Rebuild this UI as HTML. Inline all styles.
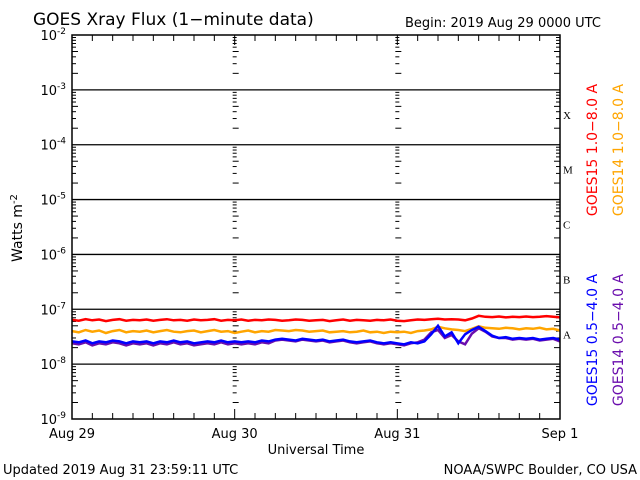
<!DOCTYPE html>
<html><head><meta charset="utf-8"><style>
body{margin:0;background:#fff;}
svg{display:block;font-family:"DejaVu Sans","Liberation Sans",sans-serif;}
</style></head><body>
<svg id="c" width="640" height="480" viewBox="0 0 640 480">
<text x="33" y="25" font-size="17">GOES Xray Flux (1−minute data)</text>
<text x="405" y="27" font-size="13">Begin:  2019 Aug 29 0000 UTC</text>
<text x="22" y="228" font-size="14" transform="rotate(-90 22 228)" text-anchor="middle">Watts m<tspan dy="-5" font-size="10">-2</tspan></text>
<text x="316" y="454" font-size="13" text-anchor="middle">Universal Time</text>
<text x="3" y="474" font-size="13">Updated 2019 Aug 31 23:59:11 UTC</text>
<text x="637" y="474" font-size="13" text-anchor="end">NOAA/SWPC Boulder, CO USA</text>
<g id="axes"></g><g id="series"></g>
<rect x="72" y="35" width="488" height="384" fill="none" stroke="#000" stroke-width="1.5"/>
<text x="597" y="150" font-size="14" fill="#ff0000" transform="rotate(-90 597 150)" text-anchor="middle">GOES15 1.0−8.0 A</text>
<text x="623" y="150" font-size="14" fill="#ffa500" transform="rotate(-90 623 150)" text-anchor="middle">GOES14 1.0−8.0 A</text>
<text x="597" y="340" font-size="14" fill="#0000ff" transform="rotate(-90 597 340)" text-anchor="middle">GOES15 0.5−4.0 A</text>
<text x="623" y="340" font-size="14" fill="#6a0dad" transform="rotate(-90 623 340)" text-anchor="middle">GOES14 0.5−4.0 A</text>
</svg>
<script>
const dayLabels=["Aug 29","Aug 30","Aug 31","Sep 1"];
const decadeExps=[-2,-3,-4,-5,-6,-7,-8,-9];
const flareClasses=["X","M","C","B","A"];
// hourly flux, units of 1e-8 W/m^2 (73 points, hour 0..72)
const g15Long=[6.4,6.2,6.6,6.3,6.5,6.1,6.4,6.6,6.2,6.4,6.3,6.5,6.2,6.4,6.6,6.3,6.4,6.2,6.5,6.3,6.4,6.6,6.2,6.4,6.3,6.5,6.2,6.4,6.3,6.5,6.4,6.2,6.3,6.5,6.4,6.2,6.3,6.4,6.1,6.3,6.5,6.2,6.4,6.3,6.2,6.4,6.3,6.5,6.2,6.1,6.3,6.5,6.4,6.6,6.7,6.5,6.6,6.5,6.3,6.8,7.6,7.3,7.2,7.4,7.1,7.3,7.2,7.4,7.2,7.3,7.5,7.3,7.1];
const g14Long=[4.0,3.8,4.2,3.9,4.1,3.7,4.0,4.2,3.8,4.0,3.9,4.1,3.8,4.0,4.2,3.9,3.8,4.0,4.1,3.8,4.0,4.2,3.9,4.0,3.7,3.9,4.1,3.8,4.0,3.9,4.2,4.1,4.0,4.2,4.1,3.9,4.0,4.1,3.8,3.9,4.0,3.8,3.9,4.1,3.8,3.9,3.7,3.9,3.8,3.9,3.7,4.0,4.1,4.3,4.8,4.5,4.3,4.2,4.0,4.4,4.9,4.6,4.5,4.4,4.6,4.5,4.3,4.5,4.4,4.6,4.3,4.4,4.1];
const g15Short=[2.6,2.5,2.7,2.4,2.6,2.5,2.7,2.6,2.4,2.6,2.5,2.6,2.4,2.6,2.5,2.7,2.5,2.6,2.4,2.5,2.6,2.5,2.7,2.5,2.6,2.5,2.6,2.5,2.7,2.6,2.8,2.9,2.8,2.7,2.9,2.8,2.7,2.8,2.6,2.7,2.8,2.6,2.5,2.6,2.7,2.5,2.4,2.5,2.4,2.3,2.5,2.4,2.6,3.5,5.0,3.2,3.8,2.4,3.5,4.2,4.8,4.0,3.3,3.0,3.1,2.9,3.0,2.9,3.0,2.8,2.9,3.0,2.8];
const g14Short=[2.4,2.3,2.5,2.2,2.4,2.3,2.5,2.4,2.2,2.4,2.3,2.4,2.2,2.4,2.3,2.5,2.3,2.4,2.2,2.3,2.4,2.3,2.5,2.3,2.4,2.3,2.4,2.3,2.5,2.4,2.7,2.8,2.7,2.6,2.8,2.7,2.6,2.7,2.5,2.6,2.7,2.5,2.4,2.5,2.6,2.4,2.3,2.4,2.3,2.2,2.4,2.5,2.8,3.8,4.2,3.0,3.4,2.6,2.3,3.6,4.5,3.9,3.2,3.0,3.0,2.8,2.9,2.8,2.9,2.7,2.8,2.9,2.6];
const NS="http://www.w3.org/2000/svg";
const X0=72,X1=560,Y0=35,Y1=419;
const xs=h=>X0+(X1-X0)*h/72;
const ys=v=>Y0+(-2-Math.log10(v))*(Y1-Y0)/7;
function mk(tag,attrs,parent){const e=document.createElementNS(NS,tag);for(const k in attrs)e.setAttribute(k,attrs[k]);parent.appendChild(e);return e;}
const ax=document.getElementById('axes');
decadeExps.forEach((p,i)=>{
  const y=ys(Math.pow(10,p));
  if(p<-2&&p>-9){const l=mk('line',{x1:X0,x2:X1,y1:y,y2:y,stroke:'#000','stroke-width':1.3},ax);
  
  }
  const t=mk('text',{x:66,y:y+5,'font-size':13,'text-anchor':'end'},ax);
  
  
  t.innerHTML='10<tspan dy="-6" font-size="9">'+p+'</tspan>';
  if(p>-9){for(let m=2;m<=9;m++){const ym=ys(m*Math.pow(10,p-1));
    const w=(m==5||m==2)?6:4;
    [[X0,X0+w],[X1-w,X1],[xs(24)-2,xs(24)+w-2],[xs(48)-2,xs(48)+w-2]].forEach(s=>{mk('line',{x1:s[0],x2:s[1],y1:ym,y2:ym,stroke:'#000','stroke-width':1},ax);});}}
});
flareClasses.forEach((c,i)=>{const y=ys(Math.pow(10,-3-i))+25;
  const t=mk('text',{x:563,y:y+4,'font-size':11,'font-family':'Liberation Serif, serif'},ax);
  
  
  t.textContent=c;});
for(let h=0;h<=72;h+=3){const x=xs(h),len=h%24==0?10:6;
  mk('line',{x1:x,x2:x,y1:Y0,y2:Y0+len,stroke:'#000'},ax);mk('line',{x1:x,x2:x,y1:Y1,y2:Y1-len,stroke:'#000'},ax);}
dayLabels.forEach((d,i)=>{const t=mk('text',{x:xs(i*24),y:438,'font-size':13,'text-anchor':'middle'},ax);
  
  
  t.textContent=d;});
const sg=document.getElementById('series');
[[g15Long,'#ff0000','goes15-long-line'],[g14Long,'#ffa500','goes14-long-line'],[g14Short,'#6a0dad','goes14-short-line'],[g15Short,'#0000ff','goes15-short-line']].forEach(s=>{
  const pts=s[0].map((v,i)=>xs(i).toFixed(1)+','+ys(v*1e-8).toFixed(1)).join(' ');
  const p=mk('polyline',{points:pts,fill:'none',stroke:s[1],'stroke-width':2.5},sg);
  
  
});
</script>
</body></html>
